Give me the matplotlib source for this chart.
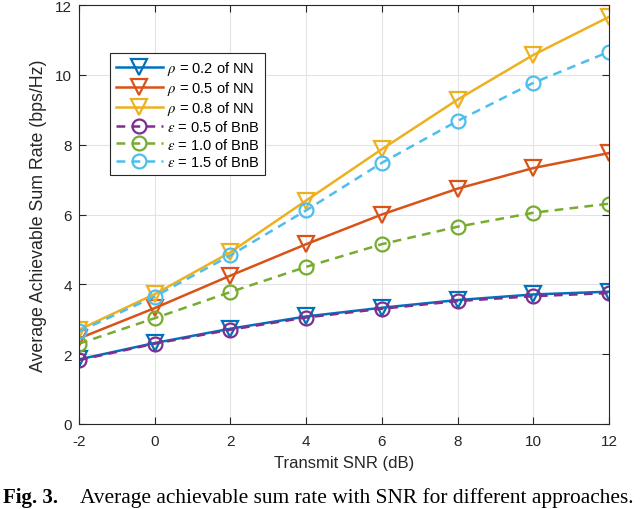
import matplotlib
matplotlib.use("Agg")
import matplotlib.pyplot as plt

snr = [-2, 0, 2, 4, 6, 8, 10, 12]
nn_rho02 = [1.85, 2.32, 2.73, 3.08, 3.33, 3.55, 3.71, 3.79]
nn_rho05 = [2.45, 3.32, 4.25, 5.15, 6.00, 6.74, 7.33, 7.76]
nn_rho08 = [2.70, 3.72, 4.92, 6.40, 7.87, 9.29, 10.57, 11.66]
bnb_eps05 = [1.83, 2.30, 2.70, 3.05, 3.30, 3.52, 3.66, 3.75]
bnb_eps10 = [2.30, 3.03, 3.78, 4.50, 5.15, 5.65, 6.05, 6.31]
bnb_eps15 = [2.65, 3.65, 4.83, 6.12, 7.48, 8.68, 9.77, 10.66]

labels = [r"$\rho$ = 0.2 of NN", r"$\rho$ = 0.5 of NN", r"$\rho$ = 0.8 of NN",
          r"$\epsilon$ = 0.5 of BnB", r"$\epsilon$ = 1.0 of BnB", r"$\epsilon$ = 1.5 of BnB"]
xticks = [-2, 0, 2, 4, 6, 8, 10, 12]
yticks = [0, 2, 4, 6, 8, 10, 12]

plt.rcParams['font.family'] = ['Liberation Sans', 'DejaVu Sans']
plt.rcParams['mathtext.fontset'] = 'stix'

colors = ['#0072BD', '#D95319', '#EDB120', '#7E2F8E', '#77AC30', '#4DBEEE']

fig = plt.figure(figsize=(6.4, 5.1), dpi=100)
ax = fig.add_axes([79/640, 1 - 425/510, 530/640, 419/510])

series = [nn_rho02, nn_rho05, nn_rho08, bnb_eps05, bnb_eps10, bnb_eps15]
for i, (ys, lab) in enumerate(zip(series, labels)):
    if i < 3:
        ax.plot(snr, ys, color=colors[i], lw=1.8, ls='-', marker='v', ms=11,
                mfc='none', mew=1.6, label=lab)
    else:
        ax.plot(snr, ys, color=colors[i], lw=1.8, ls=(0, (3.5, 2.5)), marker='o', ms=10,
                mfc='none', mew=1.6, label=lab)

ax.set_xlim(-2, 12)
ax.set_ylim(0, 12)
ax.set_xticks(xticks)
ax.set_xticklabels([str(t) for t in xticks])
ax.set_yticks(yticks)
ax.grid(True, color='#e3e3e3', lw=0.8)
ax.set_axisbelow(True)
ax.tick_params(direction='in', top=True, right=True, labelsize=11, colors='#262626', length=5)
ax.tick_params(axis='x', pad=7.5)
ax.tick_params(axis='y', pad=5)
for sp in ax.spines.values():
    sp.set_color('#262626')
    sp.set_linewidth(0.8)
ax.set_xlabel("Transmit SNR (dB)", fontsize=12, color='#262626', labelpad=5)
ax.set_ylabel("Average Achievable Sum Rate (bps/Hz)", fontsize=12.8, color='#262626', labelpad=6)

leg = ax.legend(loc='upper left', bbox_to_anchor=(31/530, 371/419), fontsize=10.5,
                handlelength=3.2, handletextpad=0.3, labelspacing=0.15,
                borderpad=0.4, fancybox=False, framealpha=1, edgecolor='#262626',
                borderaxespad=0)
leg.get_frame().set_linewidth(0.8)

fig.text(0.004, 0.014, "Fig. 3.", fontsize=15, fontweight='bold',
         family=['Liberation Serif', 'DejaVu Serif'], va='baseline')
fig.text(0.125, 0.014, "Average achievable sum rate with SNR for different approaches.",
         fontsize=15.4, family=['Liberation Serif', 'DejaVu Serif'], va='baseline')

fig.savefig("out.png", dpi=100)
